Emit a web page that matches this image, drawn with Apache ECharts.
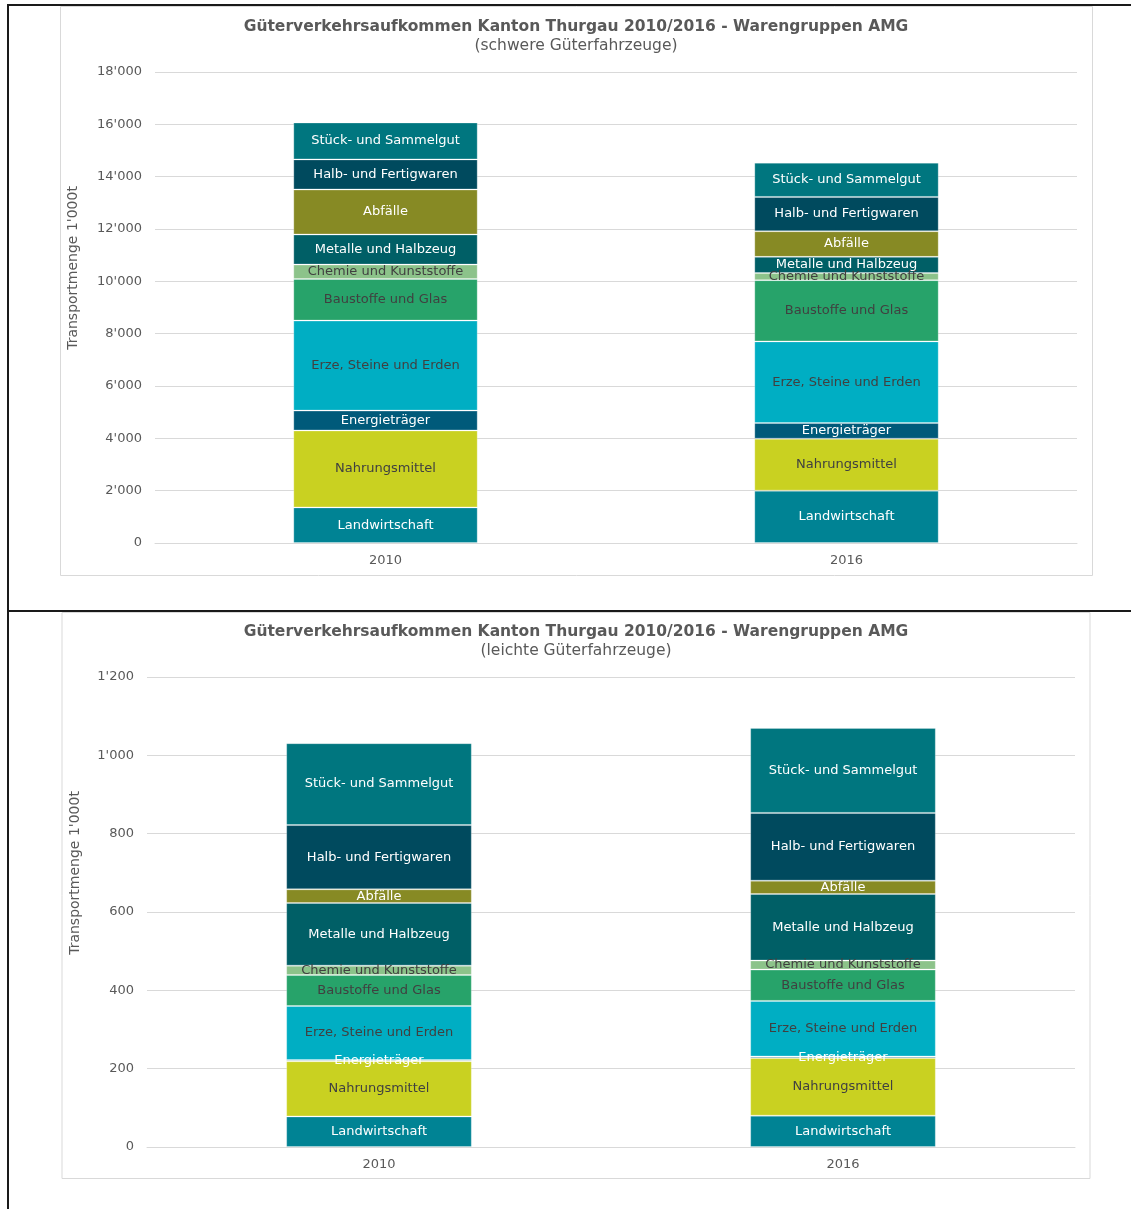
<!DOCTYPE html>
<html>
<head>
<meta charset="utf-8">
<script src="https://cdn.jsdelivr.net/npm/echarts@6/dist/echarts.min.js"></script>
<style>
html,body{margin:0;padding:0;background:#fff;}
#c{width:1131px;height:1209px;}
</style>
</head>
<body>
<div id="c"></div>
<script>
// ---- data ----
const years = ['2010', '2016'];
const groups = ['Landwirtschaft', 'Nahrungsmittel', 'Energieträger', 'Erze, Steine und Erden', 'Baustoffe und Glas', 'Chemie und Kunststoffe', 'Metalle und Halbzeug', 'Abfälle', 'Halb- und Fertigwaren', 'Stück- und Sammelgut'];
const groupColors = ['#008394', '#C9D121', '#005A7A', '#00AEC3', '#27A36A', '#8CC38A', '#005F66', '#878A24', '#004A5E', '#00767F'];
const labelColors = ['#ffffff', '#404040', '#ffffff', '#404040', '#404040', '#404040', '#ffffff', '#ffffff', '#ffffff', '#ffffff'];
// schwere Güterfahrzeuge (1'000 t)
const schwer2010 = [1360, 2940, 760, 3440, 1590, 550, 1150, 1720, 1150, 1410];
const schwer2016 = [2000, 1985, 600, 3120, 2340, 270, 620, 980, 1310, 1310];
// leichte Güterfahrzeuge (1'000 t)
const leicht2010 = [78, 141, 3, 138, 79, 24, 160, 35, 164, 209];
const leicht2016 = [80, 147, 4, 142, 80, 23, 170, 34, 173, 217];
const schwerTicks = { min: 0, max: 18000, interval: 2000 };
const leichtTicks = { min: 0, max: 1200, interval: 200 };
const titleText = 'Güterverkehrsaufkommen Kanton Thurgau 2010/2016 - Warengruppen AMG';
const subtitle1 = '(schwere Güterfahrzeuge)';
const subtitle2 = '(leichte Güterfahrzeuge)';
const axisName = "Transportmenge 1'000t";

// ---- chart ----
const FONT = 'DejaVu Sans, Verdana, sans-serif';
const fmt = v => String(v).replace(/\B(?=(\d{3})+(?!\d))/g, "'");

function makeSeries(idx, stack, a, b) {
  return groups.map((g, i) => ({
    name: g,
    type: 'bar',
    stack: stack,
    xAxisIndex: idx,
    yAxisIndex: idx,
    barWidth: '40%',
    data: [a[i], b[i]],
    itemStyle: { color: groupColors[i], borderColor: 'rgba(255,255,255,0.25)', borderWidth: 1 },
    label: {
      show: true, position: 'inside', formatter: '{a}',
      color: labelColors[i], fontFamily: FONT, fontSize: 13
    },
    emphasis: { disabled: true }
  }));
}

const axisLabelStyle = { color: '#595959', fontFamily: FONT, fontSize: 13 };

function xAx(idx) {
  return {
    type: 'category', gridIndex: idx, data: years,
    axisLine: { lineStyle: { color: '#d9d9d9' } },
    axisTick: { show: false },
    axisLabel: Object.assign({ margin: 11 }, axisLabelStyle)
  };
}
function yAx(idx, t) {
  return {
    type: 'value', gridIndex: idx, min: t.min, max: t.max, interval: t.interval,
    axisLine: { show: false }, axisTick: { show: false },
    splitLine: { lineStyle: { color: '#d9d9d9' } },
    axisLabel: Object.assign({ margin: 13, formatter: fmt }, axisLabelStyle)
  };
}

const chart = echarts.init(document.getElementById('c'), null, { renderer: 'canvas' });
chart.setOption({
  animation: false,
  backgroundColor: '#ffffff',
  grid: [
    { left: 155, top: 72, width: 922, height: 471 },
    { left: 147, top: 677, width: 928, height: 470 }
  ],
  xAxis: [xAx(0), xAx(1)],
  yAxis: [yAx(0, schwerTicks), yAx(1, leichtTicks)],
  series: makeSeries(0, 'schwer', schwer2010, schwer2016).concat(makeSeries(1, 'leicht', leicht2010, leicht2016)),
  graphic: [
    // outer black frame lines
    { type: 'rect', shape: { x: 8, y: 4, width: 1123, height: 2 }, style: { fill: '#1a1a1a' }, silent: true },
    { type: 'rect', shape: { x: 7, y: 4, width: 2, height: 1205 }, style: { fill: '#1a1a1a' }, silent: true },
    { type: 'rect', shape: { x: 8, y: 610, width: 1123, height: 2 }, style: { fill: '#1a1a1a' }, silent: true },
    // chart boxes
    { type: 'rect', shape: { x: 60.5, y: 6.5, width: 1032, height: 569 }, style: { fill: 'none', stroke: '#d9d9d9', lineWidth: 1 }, silent: true },
    { type: 'rect', shape: { x: 62, y: 612.5, width: 1028, height: 566 }, style: { fill: 'none', stroke: '#d9d9d9', lineWidth: 1 }, silent: true },
    // titles
    { type: 'text', x: 576, y: 27, style: { text: titleText, fill: '#595959', font: 'bold 15.5px ' + FONT, textAlign: 'center', textVerticalAlign: 'middle' }, silent: true },
    { type: 'text', x: 576, y: 46, style: { text: subtitle1, fill: '#595959', font: '15.5px ' + FONT, textAlign: 'center', textVerticalAlign: 'middle' }, silent: true },
    { type: 'text', x: 576, y: 632, style: { text: titleText, fill: '#595959', font: 'bold 15.5px ' + FONT, textAlign: 'center', textVerticalAlign: 'middle' }, silent: true },
    { type: 'text', x: 576, y: 651, style: { text: subtitle2, fill: '#595959', font: '15.5px ' + FONT, textAlign: 'center', textVerticalAlign: 'middle' }, silent: true },
    // axis names
    { type: 'text', x: 73, y: 268, rotation: Math.PI / 2, style: { text: axisName, fill: '#595959', font: '14px ' + FONT, textAlign: 'center', textVerticalAlign: 'middle' }, silent: true },
    { type: 'text', x: 75, y: 873, rotation: Math.PI / 2, style: { text: axisName, fill: '#595959', font: '14px ' + FONT, textAlign: 'center', textVerticalAlign: 'middle' }, silent: true }
  ]
});
</script>
</body>
</html>
